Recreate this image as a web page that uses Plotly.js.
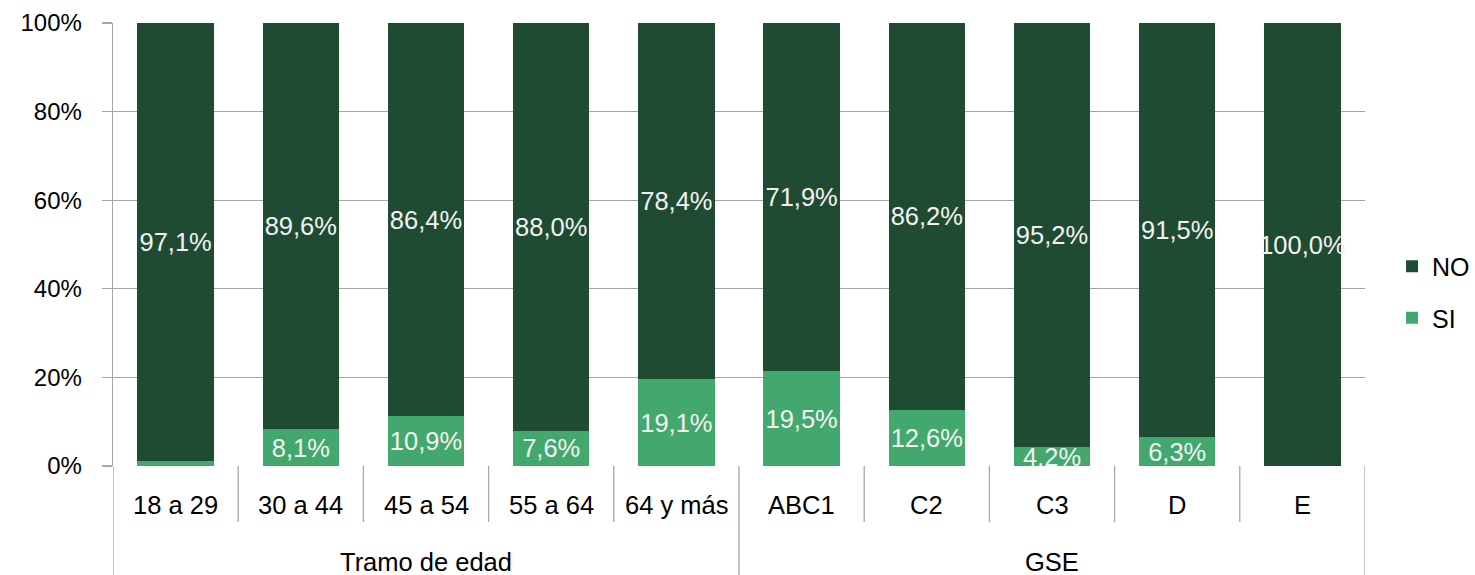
<!DOCTYPE html>
<html>
<head>
<meta charset="utf-8">
<script src="https://cdn.plot.ly/plotly-3.0.1.min.js"></script>
<style>html,body{margin:0;padding:0;background:#fff;}</style>
</head>
<body>
<div id="chart" style="width:1475px;height:575px;"></div>
<script>
var groups = ["Tramo de edad","Tramo de edad","Tramo de edad","Tramo de edad","Tramo de edad","GSE","GSE","GSE","GSE","GSE"];
var categories = ["18 a 29","30 a 44","45 a 54","55 a 64","64 y más","ABC1","C2","C3","D","E"];
var noValues = [97.1, 89.6, 86.4, 88.0, 78.4, 71.9, 86.2, 95.2, 91.5, 100.0];
var siValues = [1.1, 8.1, 10.9, 7.6, 19.1, 19.5, 12.6, 4.2, 6.3, 0];
var noLabels = ["97,1%","89,6%","86,4%","88,0%","78,4%","71,9%","86,2%","95,2%","91,5%","100,0%"];
var siLabels = ["","8,1%","10,9%","7,6%","19,1%","19,5%","12,6%","4,2%","6,3%",""];
var yTickVals = [0, 20, 40, 60, 80, 100];
var yTickText = ["0%","20%","40%","60%","80%","100%"];

var FONT = "Liberation Sans, Arial, sans-serif";
var GRAY = "#a6a6a6";
var plotH = 575 - 23 - 109;

var traces = [
  {type:"bar", name:"SI", legendgroup:"si", legendrank:2, x:categories, y:siValues, text:siLabels,
   textposition:"inside", insidetextanchor:"middle", constraintext:"none", textangle:0,
   textfont:{family:FONT,size:25.5,color:"#f2f2f2"},
   marker:{color:"#42a86e"}, hoverinfo:"none"},
  {type:"bar", name:"NO", legendgroup:"no", legendrank:1, x:categories, y:noValues, text:noLabels,
   textposition:"inside", insidetextanchor:"middle", constraintext:"none", textangle:0,
   textfont:{family:FONT,size:25.5,color:"#f2f2f2"},
   marker:{color:"#1f4b33"}, hoverinfo:"none"}
];

var annotations = [];
var shapes = [];
categories.forEach(function(c, i){
  annotations.push({x:c, xref:"x", y:-(505-466)/plotH, yref:"paper", yanchor:"middle",
    text:c, showarrow:false, font:{family:FONT,size:25.5,color:"#000"}});
  if (i > 0) {
    var isGroupEdge = groups[i] !== groups[i-1];
    if (!isGroupEdge) {
      shapes.push({type:"line", xref:"x", yref:"paper", x0:i-0.5, x1:i-0.5,
        y0:0, y1:-56/plotH, line:{color:GRAY, width:1.3}});
    }
  }
});
// group labels and group dividers
var start = 0;
for (var i = 1; i <= groups.length; i++) {
  if (i === groups.length || groups[i] !== groups[start]) {
    annotations.push({x:(start + i - 1)/2, xref:"x", y:-(562-466)/plotH, yref:"paper", yanchor:"middle",
      text:groups[start], showarrow:false, font:{family:FONT,size:25.5,color:"#000"}});
    shapes.push({type:"line", xref:"x", yref:"paper", x0:start-0.5, x1:start-0.5,
      y0:0, y1:-109/plotH, line:{color:GRAY, width:1.3}});
    start = i;
  }
}
shapes.push({type:"line", xref:"x", yref:"paper", x0:groups.length-0.5, x1:groups.length-0.5,
  y0:0, y1:-109/plotH, line:{color:GRAY, width:1.3}});

var layout = {
  width:1475, height:575,
  margin:{l:113, r:110, t:23, b:109, autoexpand:false},
  barmode:"stack", barnorm:"percent", bargap:0.39,
  font:{family:FONT, size:24, color:"#000"},
  paper_bgcolor:"#fff", plot_bgcolor:"#fff",
  showlegend:true,
  legend:{x:1.0216, y:(466-292)/plotH, xanchor:"left", yanchor:"middle", traceorder:"grouped",
          font:{family:FONT,size:25,color:"#000"}, tracegroupgap:16},
  xaxis:{type:"category", range:[-0.5, categories.length-0.5], showline:false, showgrid:false,
         ticks:"", showticklabels:false, zeroline:false},
  yaxis:{range:[0,100], tickmode:"array", tickvals:yTickVals, ticktext:yTickText,
         showline:true, linecolor:GRAY, linewidth:1.3,
         showgrid:true, gridcolor:GRAY, gridwidth:1.3,
         ticks:"outside", ticklen:10, tickcolor:GRAY, tickwidth:1.3, ticklabelstandoff:15,
         zeroline:false, tickfont:{family:FONT,size:24,color:"#000"}},
  annotations:annotations,
  shapes:shapes
};
Plotly.newPlot("chart", traces, layout, {displayModeBar:false, staticPlot:true});
</script>
</body>
</html>
